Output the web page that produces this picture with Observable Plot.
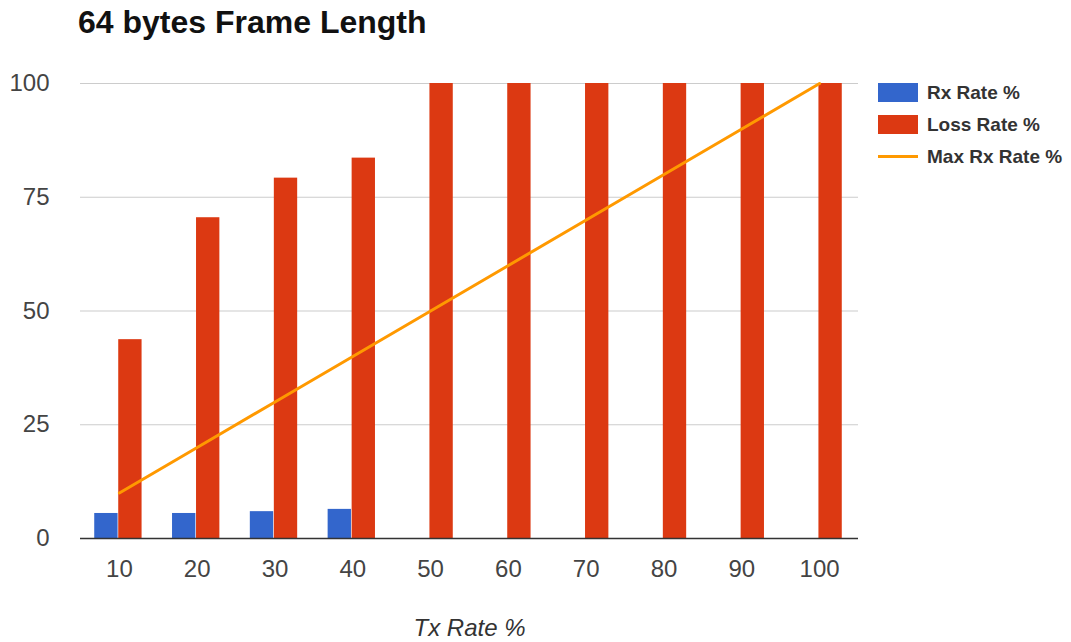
<!DOCTYPE html>
<html>
<head>
<meta charset="utf-8">
<script src="https://cdn.jsdelivr.net/npm/d3@7"></script>
<script src="https://cdn.jsdelivr.net/npm/@observablehq/plot@0.6"></script>
<style>
  html, body { margin: 0; padding: 0; background: #fff; }
  body { width: 1071px; height: 642px; position: relative; overflow: hidden; font-family: "Liberation Sans", Arial, sans-serif; }
  #title { position: absolute; left: 78px; top: 4px; font-size: 32px; font-weight: bold; color: #111; white-space: nowrap; }
  #chart { position: absolute; left: 0; top: 0; }
  #legend { position: absolute; left: 878px; top: 77px; font-size: 19px; font-weight: bold; color: #333; }
  .item { display: flex; align-items: center; height: 31px; margin-bottom: 1px; }
  .sw { width: 40px; height: 19px; margin-right: 9px; }
  .ln { width: 40px; height: 3px; margin-right: 9px; }
</style>
</head>
<body>
<div id="title">64 bytes Frame Length</div>
<div id="chart"></div>
<div id="legend"></div>
<script>
const categories = ["10", "20", "30", "40", "50", "60", "70", "80", "90", "100"];
const rxRate = [5.5, 5.5, 5.9, 6.4, 0, 0, 0, 0, 0, 0];
const lossRate = [43.7, 70.5, 79.2, 83.6, 100, 100, 100, 100, 100, 100];
const maxRxRate = [10, 20, 30, 40, 50, 60, 70, 80, 90, 100];
const yTicks = [0, 25, 50, 75, 100];
const seriesNames = ["Rx Rate %", "Loss Rate %", "Max Rx Rate %"];
const colors = ["#3366CC", "#DC3912", "#FF9900"];

const rows = categories.map((c, i) => ({cat: c, rx: rxRate[i], loss: lossRate[i], max: maxRxRate[i]}));

const plot = Plot.plot({
  width: 1071,
  height: 642,
  marginLeft: 80,
  marginRight: 213,
  marginTop: 83,
  marginBottom: 104,
  style: {fontFamily: "'Liberation Sans', Arial, sans-serif", fontSize: "24px", color: "#444", background: "transparent", overflow: "visible"},
  x: {type: "band", domain: categories, paddingInner: 0.7, paddingOuter: 0.35, round: false, label: null},
  y: {domain: [0, 100], label: null},
  marks: [
    Plot.ruleY(yTicks.filter(t => t > 0), {stroke: "#cccccc", strokeWidth: 1.2}),
    Plot.axisY({ticks: yTicks, tickSize: 0, tickPadding: 31, fontSize: 24, fill: "#444"}),
    Plot.axisX({tickSize: 0, tickPadding: 21, fontSize: 24, fill: "#444", label: null}),
    Plot.barY(rows, {x: "cat", y: "rx", fill: colors[0], dx: -13}),
    Plot.barY(rows, {x: "cat", y: "loss", fill: colors[1], dx: 11}),
    Plot.ruleY([0], {stroke: "#333", strokeWidth: 1.5}),
    Plot.lineY(rows, {x: "cat", y: "max", stroke: colors[2], strokeWidth: 3}),
    Plot.text(["Tx Rate %"], {frameAnchor: "bottom", dy: 97, fontSize: 24, fontStyle: "italic", fill: "#333"})
  ]
});
document.getElementById("chart").appendChild(plot);

const legend = document.getElementById("legend");
seriesNames.forEach((name, i) => {
  const item = document.createElement("div");
  item.className = "item";
  const sw = document.createElement("div");
  sw.className = i < 2 ? "sw" : "ln";
  sw.style.background = colors[i];
  const t = document.createElement("span");
  t.textContent = name;
  item.appendChild(sw);
  item.appendChild(t);
  legend.appendChild(item);
});
</script>
</body>
</html>
